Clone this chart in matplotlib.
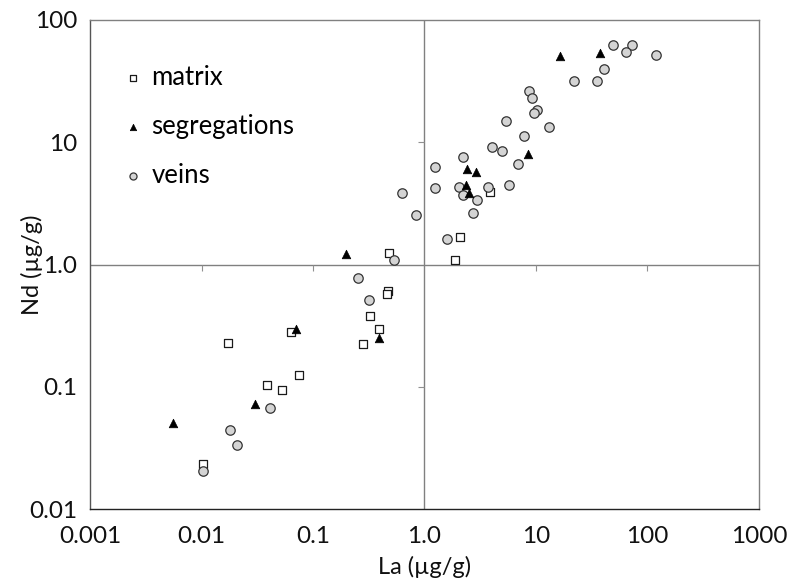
import matplotlib
matplotlib.use("Agg")
import matplotlib.pyplot as plt
from matplotlib.ticker import FixedLocator, FixedFormatter, NullLocator

plt.rcParams['font.family'] = ['Lato', 'DejaVu Sans']

# ---- data (La, Nd in µg/g) ----
matrix_la = [0.0173, 0.0635, 0.0753, 0.0385, 0.0523, 0.0104, 0.483, 0.471, 0.458,
             0.324, 0.391, 0.282, 3.89, 2.08, 1.88]
matrix_nd = [0.229, 0.282, 0.1255, 0.103, 0.094, 0.0233, 1.25, 0.611, 0.570,
             0.379, 0.295, 0.224, 3.92, 1.69, 1.09]

segreg_la = [0.00558, 0.0302, 0.0704, 0.196, 0.393, 2.41, 2.88, 2.34, 2.51, 8.42, 16.3, 37.3]
segreg_nd = [0.0502, 0.0722, 0.295, 1.21, 0.249, 6.08, 5.68, 4.47, 3.82, 8.0, 51.1, 53.7]

veins_la = [0.0411, 0.018, 0.021, 0.0104, 0.532, 0.255, 0.32, 0.624, 0.84,
            4.03, 4.99, 2.2, 6.85, 1.24, 5.77, 1.24, 2.05, 3.69, 2.2, 2.94, 2.71, 1.58,
            49.1, 72.1, 64.6, 118.5, 40.5, 21.8, 35.5, 8.6, 9.27, 10.3, 9.66, 5.42, 13.1, 7.76]
veins_nd = [0.067, 0.0445, 0.0332, 0.0205, 1.09, 0.771, 0.513, 3.87, 2.54,
            9.2, 8.48, 7.53, 6.6, 6.24, 4.5, 4.2, 4.33, 4.3, 3.7, 3.37, 2.65, 1.61,
            62.8, 62.1, 54.8, 51.7, 39.5, 31.7, 31.7, 26.3, 23.2, 18.4, 17.2, 14.8, 13.4, 11.3]

x_ticks = [0.001, 0.01, 0.1, 1, 10, 100, 1000]
x_tick_labels = ["0.001", "0.01", "0.1", "1.0", "10", "100", "1000"]
y_ticks = [0.01, 0.1, 1, 10, 100]
y_tick_labels = ["0.01", "0.1", "1.0", "10", "100"]

fig = plt.figure(figsize=(8.04, 5.84), dpi=100)
ax = fig.add_axes([90/804, 1-509/584, (759-90)/804, (509-20)/584])
ax.set_xscale('log')
ax.set_yscale('log')
ax.set_xlim(0.001, 1000)
ax.set_ylim(0.01, 100)

# crossing axis lines at 1
ax.axvline(1, color='#808080', lw=1.0, zorder=1)
ax.axhline(1, color='#808080', lw=1.0, zorder=1)
# small tick marks on the crossing axes
xt_in = [v for v in x_ticks if v not in (0.001, 1, 1000)]
yt_in = [v for v in y_ticks if v not in (0.01, 1, 100)]
ax.plot(xt_in, [1]*len(xt_in), linestyle='none', marker=3, markersize=4,
        color='#909090', mew=0.8, zorder=1)
ax.plot([1]*len(yt_in), yt_in, linestyle='none', marker=0, markersize=4,
        color='#909090', mew=0.8, zorder=1)

h_m = ax.scatter(matrix_la, matrix_nd, marker='s', s=38, facecolor='white',
                 edgecolor='#1a1a1a', linewidth=0.9, zorder=3, label='matrix')
h_v = ax.scatter(veins_la, veins_nd, marker='o', s=46, facecolor='#d4d4d4',
                 edgecolor='#333333', linewidth=0.9, zorder=4, label='veins')
h_s = ax.scatter(segreg_la, segreg_nd, marker='^', s=38, facecolor='black',
                 edgecolor='black', linewidth=0.5, zorder=5, label='segregations')

ax.xaxis.set_major_locator(FixedLocator(x_ticks))
ax.xaxis.set_major_formatter(FixedFormatter(x_tick_labels))
ax.xaxis.set_minor_locator(NullLocator())
ax.yaxis.set_major_locator(FixedLocator(y_ticks))
ax.yaxis.set_major_formatter(FixedFormatter(y_tick_labels))
ax.yaxis.set_minor_locator(NullLocator())
ax.tick_params(axis='both', which='both', length=0, labelsize=17.5, colors='#111111')
ax.tick_params(axis='x', pad=12)
ax.tick_params(axis='y', pad=9)

for side in ('top', 'right'):
    ax.spines[side].set_color('#808080')
    ax.spines[side].set_linewidth(1.0)
ax.spines['left'].set_color('#555555')
ax.spines['bottom'].set_color('#222222')
ax.spines['left'].set_linewidth(1.0)
ax.spines['bottom'].set_linewidth(1.0)

ax.set_xlabel('La (µg/g)', fontsize=17, color='#111111')
ax.set_ylabel('Nd (µg/g)', fontsize=17, color='#111111')
ax.xaxis.set_label_coords(0.5, -0.095)
ax.yaxis.set_label_coords(-0.07, 0.5)

leg = ax.legend(handles=[h_m, h_s, h_v], loc='upper left', bbox_to_anchor=(0.038, 0.93),
                frameon=False, fontsize=18.5, markerscale=0.75, handlelength=0.55,
                handletextpad=0.45, labelspacing=0.94, borderaxespad=0)

fig.savefig('out.png', dpi=100)
